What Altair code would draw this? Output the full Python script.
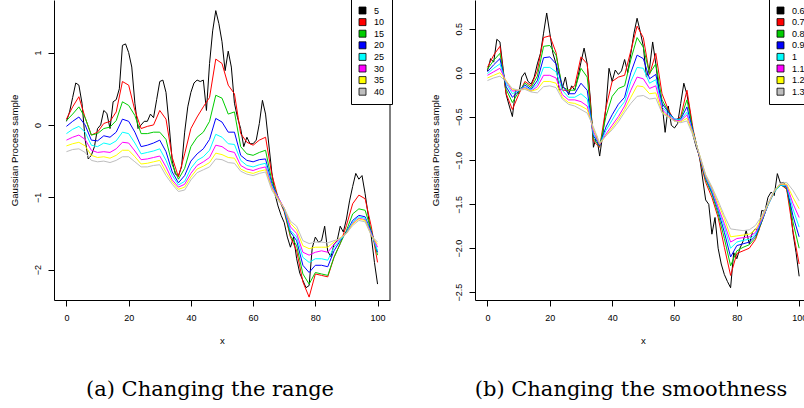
import altair as alt
import pandas as pd

# ---------------- data ----------------
X_FINE = list(range(0, 101))        # grid of the roughest (black) curves
X_STEP2 = list(range(0, 101, 2))    # grid of the other curves

RANGE_LABELS = ["5", "10", "15", "20", "25", "30", "35", "40"]
SMOOTH_LABELS = ["0.6", "0.7", "0.8", "0.9", "1", "1.1", "1.2", "1.3"]
COLORS = ["#000000", "#FF0000", "#00CD00", "#0000FF", "#00FFFF", "#FF00FF", "#FFFF00", "#BEBEBE"]

CAPTION_A = "(a) Changing the range"
CAPTION_B = "(b) Changing the smoothness"
X_TICKS = [0, 20, 40, 60, 80, 100]
Y_TICKS_A = [-2, -1, 0, 1]
Y_TICKS_B = [0.5, 0.0, -0.5, -1.0, -1.5, -2.0, -2.5]

# panel (a): changing the range
a_black = [0.05, 0.18, 0.38, 0.58, 0.55, 0.3, -0.2, -0.47, -0.42, -0.3,
           -0.05, 0.0, 0.2, 0.16, -0.05, 0.32, 0.35, 0.5, 1.1, 1.12,
           1.0, 0.8, 0.3, -0.05, 0.0, 0.05, 0.05, 0.15, 0.1, 0.35,
           0.6, 0.62, 0.45, 0.0, -0.5, -0.68, -0.7, -0.58, -0.1, 0.25,
           0.45, 0.58, 0.62, 0.6, 0.62, 0.2, 0.85, 1.3, 1.58, 1.4,
           1.15, 0.75, 1.02, 0.8, 0.3, 0.1, -0.05, -0.3, -0.17, -0.26,
           -0.26, -0.21, 0.02, 0.34, 0.15, -0.25, -0.65, -0.95, -1.12, -1.25,
           -1.35, -1.55, -1.69, -1.55, -1.85, -2.05, -2.15, -2.25, -2.22, -1.7,
           -1.55, -1.62, -1.6, -1.4, -1.75, -1.82, -1.65, -1.6, -1.4, -1.48,
           -1.3, -1.05, -0.85, -0.67, -0.75, -0.7, -0.95, -1.25, -1.55, -1.9,
           -2.2]
a_red = [0.08, 0.25, 0.39, 0.1, -0.14, -0.1, 0.02, 0.05, 0.18, 0.6,
         0.55, 0.2, -0.05, -0.02, 0.0, 0.2, 0.08, -0.45, -0.72, -0.4,
         -0.05, 0.11, 0.25, 0.38, 0.91, 0.85, 0.55, 0.43, -0.12, -0.24,
         -0.28, -0.21, -0.17, -0.68, -1.0, -1.2, -1.55, -1.74, -2.17, -2.38,
         -2.06, -2.08, -2.1, -1.83, -1.64, -1.39, -1.09, -0.97, -1.02, -1.41,
         -1.9]
a_green = [0.06, 0.15, 0.25, 0.1, -0.14, -0.12, -0.05, -0.03, 0.06, 0.32,
           0.27, 0.13, -0.12, -0.12, -0.1, -0.1, -0.2, -0.55, -0.75, -0.6,
           -0.3, -0.17, -0.1, 0.05, 0.41, 0.37, 0.15, 0.18, -0.3, -0.4,
           -0.42, -0.38, -0.35, -0.77, -1.0, -1.18, -1.53, -1.67, -2.06, -2.2,
           -2.04, -2.06, -2.08, -1.83, -1.64, -1.46, -1.23, -1.16, -1.18, -1.46,
           -1.8]
a_blue = [-0.02, 0.05, 0.11, 0.0, -0.21, -0.22, -0.15, -0.17, -0.1, 0.08,
          0.05, -0.1, -0.3, -0.28, -0.25, -0.21, -0.37, -0.65, -0.8, -0.7,
          -0.5, -0.4, -0.33, -0.2, 0.09, 0.04, -0.1, -0.1, -0.42, -0.49,
          -0.51, -0.48, -0.47, -0.81, -1.0, -1.17, -1.48, -1.6, -1.94, -2.04,
          -1.94, -1.94, -1.96, -1.74, -1.6, -1.48, -1.32, -1.25, -1.27, -1.48,
          -1.76]
a_cyan = [-0.12, -0.06, -0.02, -0.1, -0.28, -0.3, -0.25, -0.27, -0.22, -0.1,
          -0.12, -0.25, -0.4, -0.38, -0.36, -0.33, -0.49, -0.7, -0.83, -0.78,
          -0.6, -0.49, -0.44, -0.35, -0.13, -0.17, -0.26, -0.27, -0.49, -0.56,
          -0.58, -0.55, -0.53, -0.84, -1.0, -1.16, -1.46, -1.55, -1.83, -1.9,
          -1.85, -1.85, -1.87, -1.69, -1.59, -1.49, -1.34, -1.27, -1.29, -1.5,
          -1.74]
a_magenta = [-0.21, -0.17, -0.14, -0.2, -0.35, -0.38, -0.37, -0.38, -0.33, -0.24,
             -0.25, -0.36, -0.48, -0.47, -0.45, -0.43, -0.58, -0.76, -0.86, -0.82,
             -0.67, -0.56, -0.51, -0.45, -0.28, -0.3, -0.36, -0.38, -0.56, -0.61,
             -0.63, -0.6, -0.58, -0.86, -1.0, -1.15, -1.41, -1.5, -1.76, -1.8,
             -1.76, -1.74, -1.76, -1.65, -1.57, -1.5, -1.36, -1.29, -1.31, -1.51,
             -1.69]
a_yellow = [-0.29, -0.26, -0.24, -0.29, -0.42, -0.45, -0.44, -0.46, -0.42, -0.35,
            -0.35, -0.44, -0.54, -0.53, -0.51, -0.49, -0.65, -0.79, -0.89, -0.86,
            -0.72, -0.61, -0.57, -0.52, -0.39, -0.41, -0.45, -0.46, -0.61, -0.65,
            -0.67, -0.64, -0.62, -0.88, -1.02, -1.15, -1.36, -1.45, -1.67, -1.71,
            -1.69, -1.69, -1.69, -1.62, -1.56, -1.5, -1.37, -1.3, -1.32, -1.53,
            -1.65]
a_gray = [-0.37, -0.34, -0.33, -0.38, -0.49, -0.51, -0.5, -0.52, -0.49, -0.44,
          -0.44, -0.51, -0.58, -0.58, -0.56, -0.55, -0.7, -0.82, -0.92, -0.9,
          -0.76, -0.66, -0.62, -0.58, -0.47, -0.48, -0.52, -0.53, -0.64, -0.68,
          -0.7, -0.67, -0.65, -0.9, -1.04, -1.15, -1.33, -1.4, -1.6, -1.64,
          -1.62, -1.62, -1.63, -1.6, -1.57, -1.5, -1.39, -1.32, -1.34, -1.53,
          -1.62]

# panel (b): changing the smoothness
b_black = [0.02, 0.16, 0.12, 0.38, 0.35, 0.05, -0.25, -0.38, -0.5, -0.2,
           -0.24, -0.05, 0.0, -0.1, -0.13, -0.05, 0.1, 0.22, 0.45, 0.68,
           0.45, 0.22, 0.1, -0.2, -0.18, -0.05, -0.25, -0.15, -0.2, -0.05,
           0.12, 0.28, 0.1, -0.3, -0.85, -0.72, -0.95, -0.7, -0.4, 0.05,
           -0.1, 0.03, -0.02, 0.02, 0.15, 0.0, 0.22, 0.45, 0.62, 0.47,
           0.3, -0.05, 0.05, 0.35, 0.1, -0.2, -0.35, -0.68, -0.38, -0.6,
           -0.63, -0.58, -0.35, -0.12, -0.25, -0.45, -0.72, -0.85, -0.95, -1.2,
           -1.45, -1.5, -1.84, -1.65, -2.0, -2.18, -2.3, -2.38, -2.45, -2.05,
           -2.12, -2.0, -1.92, -1.8, -1.95, -1.82, -1.78, -1.8, -1.57, -1.58,
           -1.42, -1.36, -1.4, -1.15, -1.26, -1.25, -1.32, -1.5, -1.82, -2.05,
           -2.32]
b_red = [0.06, 0.2, 0.3, -0.24, -0.42, -0.25, -0.1, -0.15, 0.02, 0.4,
         0.42, 0.23, -0.2, -0.2, -0.15, 0.18, 0.1, -0.78, -0.85, -0.4,
         -0.1, -0.05, -0.03, 0.25, 0.53, 0.4, -0.02, 0.22, -0.24, -0.42,
         -0.55, -0.5, -0.2, -0.65, -0.97, -1.25, -1.42, -1.65, -1.99, -2.31,
         -2.06, -2.03, -2.0, -1.9, -1.7, -1.5, -1.35, -1.27, -1.33, -1.8,
         -2.18]
b_green = [0.04, 0.14, 0.22, -0.19, -0.34, -0.22, -0.12, -0.17, -0.04, 0.3,
           0.31, 0.2, -0.16, -0.2, -0.2, 0.05, -0.05, -0.75, -0.84, -0.5,
           -0.27, -0.18, -0.15, 0.15, 0.4, 0.29, -0.01, 0.1, -0.31, -0.44,
           -0.54, -0.52, -0.31, -0.67, -0.96, -1.22, -1.38, -1.61, -1.89, -2.2,
           -2.03, -1.99, -1.96, -1.88, -1.7, -1.5, -1.36, -1.28, -1.31, -1.7,
           -2.0]
b_blue = [0.01, 0.09, 0.16, -0.16, -0.28, -0.21, -0.14, -0.19, -0.09, 0.17,
          0.18, 0.1, -0.15, -0.24, -0.24, -0.12, -0.2, -0.72, -0.83, -0.62,
          -0.48, -0.36, -0.28, 0.0, 0.2, 0.16, -0.07, -0.02, -0.35, -0.45,
          -0.53, -0.53, -0.39, -0.68, -0.95, -1.2, -1.36, -1.57, -1.82, -2.1,
          -1.97, -1.95, -1.93, -1.86, -1.69, -1.51, -1.36, -1.28, -1.3, -1.63,
          -1.87]
b_cyan = [-0.01, 0.05, 0.1, -0.12, -0.24, -0.2, -0.16, -0.2, -0.13, 0.06,
          0.06, 0.01, -0.2, -0.28, -0.28, -0.24, -0.3, -0.7, -0.82, -0.66,
          -0.54, -0.42, -0.33, -0.1, 0.06, 0.05, -0.12, -0.08, -0.39, -0.47,
          -0.53, -0.54, -0.45, -0.69, -0.94, -1.19, -1.34, -1.55, -1.76, -2.0,
          -1.93, -1.91, -1.9, -1.84, -1.68, -1.51, -1.36, -1.28, -1.29, -1.55,
          -1.76]
b_magenta = [-0.03, 0.01, 0.05, -0.1, -0.21, -0.2, -0.17, -0.21, -0.16, -0.03,
             -0.03, -0.06, -0.25, -0.31, -0.31, -0.33, -0.38, -0.67, -0.82, -0.7,
             -0.6, -0.5, -0.38, -0.2, -0.05, -0.07, -0.18, -0.15, -0.42, -0.49,
             -0.54, -0.55, -0.48, -0.7, -0.94, -1.18, -1.32, -1.53, -1.72, -1.93,
             -1.89, -1.88, -1.87, -1.82, -1.67, -1.5, -1.35, -1.27, -1.28, -1.49,
             -1.65]
b_yellow = [-0.06, -0.03, 0.0, -0.09, -0.19, -0.2, -0.18, -0.21, -0.19, -0.1,
            -0.1, -0.12, -0.28, -0.34, -0.35, -0.38, -0.42, -0.64, -0.81, -0.72,
            -0.63, -0.53, -0.42, -0.28, -0.15, -0.16, -0.24, -0.23, -0.45, -0.5,
            -0.55, -0.56, -0.52, -0.7, -0.93, -1.17, -1.31, -1.49, -1.66, -1.87,
            -1.86, -1.85, -1.84, -1.79, -1.65, -1.5, -1.35, -1.27, -1.27, -1.42,
            -1.55]
b_gray = [-0.09, -0.06, -0.04, -0.1, -0.18, -0.2, -0.19, -0.22, -0.23, -0.16,
          -0.15, -0.17, -0.3, -0.36, -0.38, -0.42, -0.46, -0.62, -0.8, -0.72,
          -0.65, -0.56, -0.45, -0.35, -0.27, -0.26, -0.3, -0.29, -0.46, -0.51,
          -0.55, -0.57, -0.55, -0.72, -0.93, -1.16, -1.3, -1.46, -1.63, -1.78,
          -1.79, -1.8, -1.79, -1.74, -1.63, -1.49, -1.34, -1.26, -1.25, -1.34,
          -1.46]

SERIES_A = [a_black, a_red, a_green, a_blue, a_cyan, a_magenta, a_yellow, a_gray]
SERIES_B = [b_black, b_red, b_green, b_blue, b_cyan, b_magenta, b_yellow, b_gray]


def long_df(labels, series):
    rows = []
    for k, (lab, vals) in enumerate(zip(labels, series)):
        xs = X_FINE if len(vals) == len(X_FINE) else X_STEP2
        for xv, yv in zip(xs, vals):
            rows.append({"series": lab, "k": k, "x": xv, "y": yv})
    return pd.DataFrame(rows)


SANS = "Liberation Sans"
SERIF = "DejaVu Serif"


def panel_layers(df, labels, x_dom, x_rng, y_dom, y_ticks, y_fmt, y_offset,
                 x_title_x, leg_x, caption, cap_x, border):
    x_axis = alt.Axis(values=X_TICKS, format="d", orient="bottom", grid=False,
                      tickSize=6, tickColor="black", tickWidth=1,
                      domainColor="black", domainWidth=1,
                      labelFont=SANS, labelFontSize=9, labelColor="black",
                      labelBaseline="middle", labelPadding=11.5,
                      labelOverlap=False, labelFlush=False,
                      title="x", titleFont=SANS, titleFontSize=9.6,
                      titleFontWeight="normal", titleColor="black",
                      titleX=x_title_x, titleY=40, titleAlign="center",
                      titleBaseline="middle")
    y_axis = alt.Axis(values=y_ticks, format=y_fmt, orient="left", grid=False,
                      offset=y_offset,
                      tickSize=6, tickColor="black", tickWidth=1,
                      domainColor="black", domainWidth=1,
                      labelFont=SANS, labelFontSize=9, labelColor="black",
                      labelAngle=270, labelAlign="center",
                      labelBaseline="alphabetic", labelPadding=8,
                      labelOverlap=False, labelFlush=False,
                      title="Gaussian Process sample", titleFont=SANS,
                      titleFontSize=9.6, titleFontWeight="normal",
                      titleColor="black", titleAngle=270, titleX=-40,
                      titleY=150, titleAlign="center", titleBaseline="middle")
    lines = alt.Chart(df).mark_line(strokeWidth=1, clip=True).encode(
        x=alt.X("x:Q", scale=alt.Scale(domain=x_dom, range=x_rng, nice=False, zero=False),
                axis=x_axis),
        y=alt.Y("y:Q", scale=alt.Scale(domain=y_dom, nice=False, zero=False), axis=y_axis),
        color=alt.Color("series:N", scale=alt.Scale(domain=labels, range=COLORS), legend=None),
        detail="k:O",
        order="x:Q",
    )
    # invisible squares whose only job is to carry the boxed, filled-square legend
    legend = alt.Chart(df).mark_square(
        filled=True, stroke="black", strokeWidth=0.8, opacity=0, size=1
    ).encode(
        fill=alt.Fill("series:N", scale=alt.Scale(domain=labels, range=COLORS),
                      legend=alt.Legend(title=None, orient="none", legendX=leg_x, legendY=-1,
                                        symbolType="square", symbolSize=49,
                                        symbolStrokeColor="black", symbolStrokeWidth=0.8,
                                        symbolOpacity=1,
                                        labelFont=SANS, labelFontSize=9, labelColor="black",
                                        labelOffset=7, rowPadding=0.6, padding=7,
                                        strokeColor="black", fillColor="white",
                                        cornerRadius=0, labelLimit=200))
    )
    cap_df = pd.DataFrame({"caption": [caption]})
    text = alt.Chart(cap_df).mark_text(font=SERIF, fontSize=21, align="center",
                                       baseline="alphabetic", color="black").encode(
        x=alt.value(cap_x), y=alt.value(396), text="caption:N")
    layers = [lines, legend, text]
    if border is not None:
        rule = alt.Chart(cap_df).mark_rule(color="black", strokeWidth=1).encode(
            x=alt.value(border), y=alt.value(0), y2=alt.value(300))
        layers.append(rule)
    return layers


df_a = long_df(RANGE_LABELS, SERIES_A)
df_b = long_df(SMOOTH_LABELS, SERIES_B)

layers_a = panel_layers(df_a, RANGE_LABELS, [-4, 104], [0, 336], [-2.42, 1.727], Y_TICKS_A, "d", 0,
                        168, 297, CAPTION_A, 156, 336)
layers_b = panel_layers(df_b, SMOOTH_LABELS, [-4, 101.55], [421, 750], [-2.59, 0.828], Y_TICKS_B, ".1f",
                        -421, 589, 715, CAPTION_B, 577, None)

chart = alt.layer(*layers_a, *layers_b).resolve_scale(
    x="independent", y="independent", color="independent", fill="independent"
).resolve_legend(fill="independent").properties(
    width=750, height=300,
    autosize=alt.AutoSizeParams(type="none"),
    padding={"left": 54, "top": 0, "right": 0, "bottom": 108},
).configure_view(strokeOpacity=0).configure_legend(strokeWidth=1)

chart.save("out.html", embed_options={"renderer": "svg", "actions": False})
